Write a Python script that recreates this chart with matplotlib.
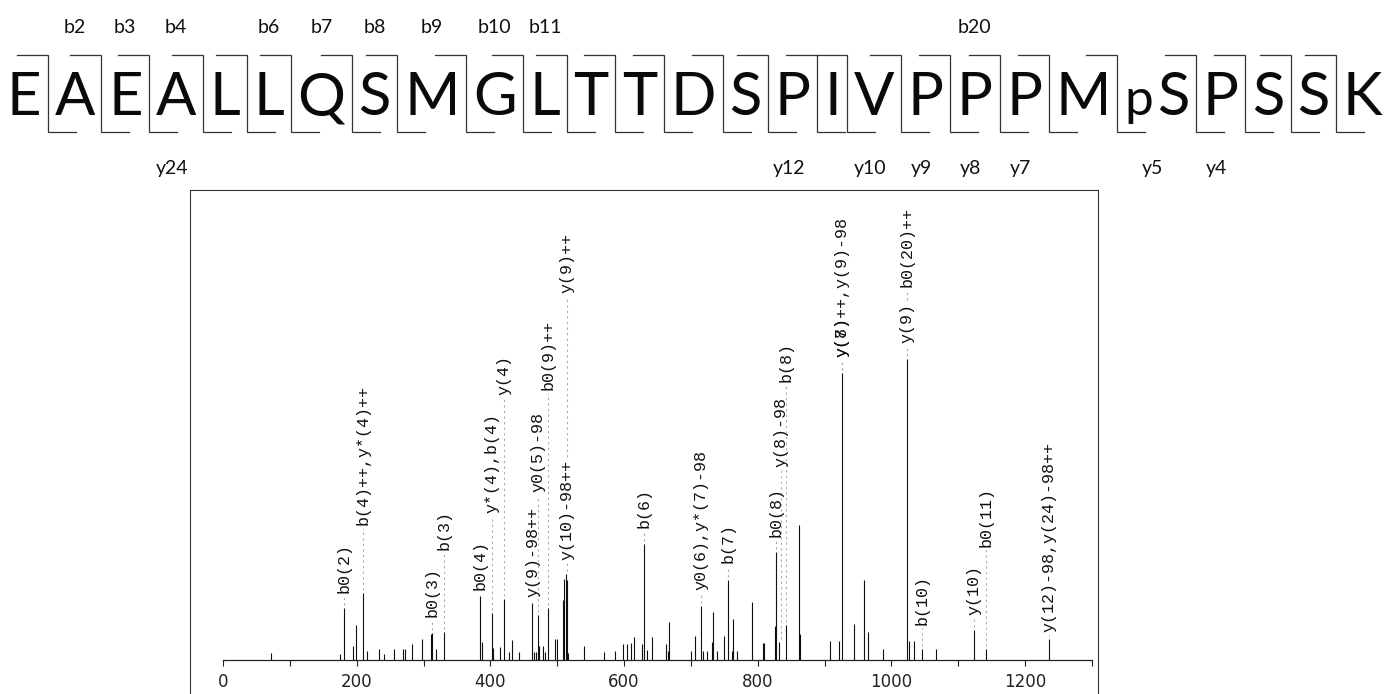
"""MS/MS spectrum of EAEALLQSMGLTTDSPIVPPPMpSPSSK with fragment map on top."""
import numpy as np
import matplotlib; matplotlib.use('Agg'); import matplotlib.pyplot as plt
from matplotlib.ticker import MultipleLocator

RESIDUES = ['E', 'A', 'E', 'A', 'L', 'L', 'Q', 'S', 'M', 'G', 'L', 'T', 'T', 'D',
            'S', 'P', 'I', 'V', 'P', 'P', 'P', 'M', 'pS', 'P', 'S', 'S', 'K']
B_SEEN = [2, 3, 4, 6, 7, 8, 9, 10, 11, 20]
Y_SEEN = [24, 12, 10, 9, 8, 7, 5, 4]

# peak list: m/z, intensity in % of base peak
PEAK_MZ = [71.5, 175, 181, 194.6, 199.7, 209.6, 215.6, 233.5, 240.6, 256, 269.5, 272,
           282.5, 297, 310.5, 313, 318, 331, 384.3, 386.8, 401.8, 404, 415, 420, 427.5,
           433, 442.5, 463, 465.5, 467.5, 470.6, 473, 478.8, 481.2, 485.6, 496.6, 499,
           508.6, 510.6, 512.6, 514.5, 516.3, 540.3, 570, 586, 599, 604, 611, 614.5,
           627.5, 630, 634.5, 641.8, 662.8, 665, 667.5, 700, 705.8, 715, 718.5, 723.6,
           731.8, 733.5, 738.6, 749.3, 756, 761.5, 763.5, 769, 791.5, 807.5, 810, 825.5,
           827.4, 832.4, 842.7, 861, 862.8, 908.8, 920.8, 926.6, 944, 959, 964.6, 987.8,
           1023, 1025.8, 1033.3, 1046.3, 1066.8, 1123.5, 1141, 1235]
PEAK_INT = [2.2, 2.0, 17.2, 4.7, 11.6, 22.2, 3.0, 3.6, 2.0, 3.6, 3.6, 3.6,
            5.2, 6.9, 8.6, 8.9, 3.6, 9.3, 21.3, 5.9, 15.5, 4.1, 4.4, 20.3, 2.7,
            6.5, 2.7, 18.8, 2.7, 2.7, 15.0, 4.8, 4.7, 2.7, 17.3, 7.1, 7.1,
            19.9, 26.8, 28.5, 26.6, 2.3, 4.7, 2.5, 3.0, 5.3, 5.3, 5.5, 7.5,
            5.3, 38.5, 3.3, 7.5, 5.3, 3.0, 12.6, 3.0, 8.1, 18.1, 3.0, 3.0,
            5.9, 15.8, 3.0, 8.1, 26.6, 3.0, 13.7, 3.0, 19.3, 5.8, 5.8, 11.3,
            35.8, 5.9, 11.6, 44.9, 8.6, 6.4, 6.4, 95.3, 12.0, 26.6, 9.2, 3.7,
            100.0, 6.4, 6.4, 3.7, 3.7, 10.0, 3.7, 7.0]

ANNOT_TEXT = ['b0(2)', 'b(4)++,y*(4)++', 'b0(3)', 'b(3)', 'b0(4)', 'y*(4),b(4)', 'y(4)',
              'y(9)-98++', 'y0(5)-98', 'b0(9)++', 'y(10)-98++', 'y(9)++', 'b(6)',
              'y0(6),y*(7)-98', 'b(7)', 'b0(8)', 'y(8)-98', 'b(8)', 'y(8)++,y(9)-98', 'y(7)',
              'y(9)', 'b0(20)++', 'b(10)', 'y(10)', 'b0(11)', 'y(12)-98,y(24)-98++']
ANNOT_MZ = [181, 209.6, 313, 331, 384.3, 401.8, 420, 463, 471, 486, 514.5, 514.5, 630,
            715, 756, 827.4, 835, 842.7, 926.6, 926.6, 1023, 1023, 1046.3, 1123.5, 1141, 1235]
# height of the foot of each label, % of base peak
ANNOT_LIFT = [22.3, 44.9, 14.4, 36.5, 23.3, 48.8, 88.0, 20.9, 55.9, 89.7, 33.2, 122.0, 43.9,
              23.3, 32.2, 40.9, 64.1, 92.4, 100.7, 100.7, 105.3, 123.9, 11.6, 15.0, 37.5, 9.3]

W, H, DPI = 1389, 694, 100
fig = plt.figure(figsize=(W / DPI, H / DPI), dpi=DPI)
rend = fig.canvas.get_renderer()

# ---- sequence header, drawn in pixel coordinates (y down)
top = fig.add_axes([0, 0, 1, 1]); top.set_xlim(0, W); top.set_ylim(H, 0); top.axis('off')
SEQ_FONT, BIG = 'Lato', 43

def seq_text(s, size, y=115):
    return top.text(0, y, s, fontsize=size, family=SEQ_FONT, ha='left', va='baseline', color='#0a0a0a')

arts, widths = [], []
for res in RESIDUES:
    if res.startswith('p'):
        a = [seq_text('p', BIG * 0.86), seq_text(res[1:], BIG)]
        widths.append(a[0].get_window_extent(rend).width + 4 + a[1].get_window_extent(rend).width)
    else:
        a = [seq_text(res, BIG)]
        widths.append(a[0].get_window_extent(rend).width)
    arts.append(a)
gap = (W - sum(widths)) / len(RESIDUES)
edges = np.concatenate([[0], np.cumsum(np.array(widths) + gap)])
centers = (edges[:-1] + edges[1:]) / 2
for a, w, c in zip(arts, widths, centers):
    a[0].set_x(c - w / 2)
    if len(a) > 1:
        a[1].set_x(c - w / 2 + a[0].get_window_extent(rend).width + 4)
for xs in edges[1:-1]:
    top.plot([xs - 31, xs, xs, xs + 28], [55, 55, 132, 132], color='#333', lw=0.9, solid_joinstyle='miter')
for n in B_SEEN:
    top.text(centers[n - 1], 33, f'b{n}', fontsize=14, family=SEQ_FONT, ha='center', va='baseline', color='#111')
for n in Y_SEEN:
    top.text(centers[len(RESIDUES) - n] - 4, 174, f'y{n}', fontsize=14, family=SEQ_FONT,
             ha='center', va='baseline', color='#111')

# ---- frame round the spectrum (bottom edge runs off the page)
frame = fig.add_axes([190 / W, -0.2, 908 / W, (H - 190) / H + 0.2])
frame.set_xticks([]); frame.set_yticks([]); frame.patch.set_alpha(0)
for s in frame.spines.values():
    s.set_color('#333'); s.set_linewidth(0.8)

# ---- spectrum
ax = fig.add_axes([223 / W, (H - 660) / H, (1092 - 223) / W, 470 / H])
ax.patch.set_alpha(0)
ax.set_xlim(0, 1300); ax.set_ylim(0, 470 / 3.01)
ax.vlines(PEAK_MZ, 0, PEAK_INT, colors='#111', lw=0.8)
for s in ('top', 'left', 'right'):
    ax.spines[s].set_visible(False)
ax.spines['bottom'].set_color('#222'); ax.spines['bottom'].set_linewidth(0.9)
ax.set_yticks([])
ax.xaxis.set_major_locator(MultipleLocator(200)); ax.xaxis.set_minor_locator(MultipleLocator(100))
ax.tick_params(axis='x', which='both', direction='out', length=4.5, width=0.8, colors='#222',
               labelsize=12, pad=5)

pk_mz = np.array(PEAK_MZ); pk_int = np.array(PEAK_INT)
labels = [ax.text(mz, lift, s, rotation=90, ha='center', va='bottom', fontsize=12,
                  family='Liberation Mono', color='#111')
          for s, mz, lift in zip(ANNOT_TEXT, ANNOT_MZ, ANNOT_LIFT)]
boxes = [t.get_window_extent(rend) for t in labels]
inv = ax.transData.inverted()
for i, (mz, bb) in enumerate(zip(ANNOT_MZ, boxes)):
    # dotted leader from the peak top (or the label below) up to the label
    near = np.abs(pk_mz - mz) <= 3
    floor = ax.transData.transform((mz, pk_int[near].max() if near.any() else 0))[1]
    xi = ax.transData.transform((mz, 0))[0]
    for j, bj in enumerate(boxes):
        if j != i and abs(ax.transData.transform((ANNOT_MZ[j], 0))[0] - xi) < 1.5 and bj.y1 < bb.y0:
            floor = max(floor, bj.y1)
    y0 = inv.transform((0, floor + 3))[1]; y1 = inv.transform((0, bb.y0 - 3))[1]
    if y1 > y0:
        ax.plot([mz, mz], [y0, y1], ls=(0, (2, 3)), color='#aaa', lw=0.8)

fig.savefig('out.png', dpi=DPI)
print('saved out.png')
